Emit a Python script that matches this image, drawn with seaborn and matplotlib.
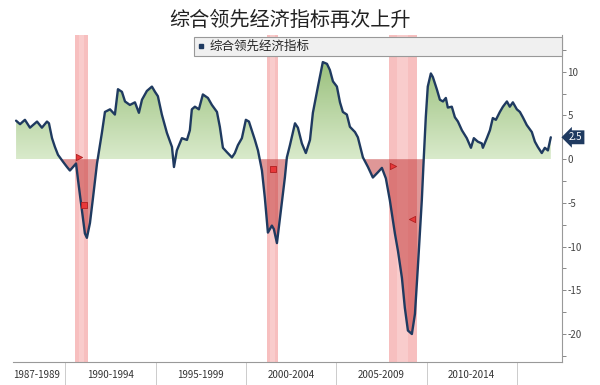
import numpy as np
import pandas as pd
import seaborn as sns
import matplotlib.pyplot as plt
from matplotlib.path import Path
from matplotlib.lines import Line2D
from matplotlib.colors import LinearSegmentedColormap

# Composite leading indicator, YoY %
years = [1987.28, 1987.50, 1987.77, 1988.05, 1988.44, 1988.71, 1988.99, 1989.10, 1989.27, 1989.43,
         1989.60, 1989.88, 1990.10, 1990.26, 1990.43, 1990.60, 1990.71, 1990.93, 1991.09, 1991.20,
         1991.37, 1991.54, 1991.76, 1992.03, 1992.20, 1992.48, 1992.75, 1992.92, 1993.14, 1993.31,
         1993.58, 1993.86, 1994.08, 1994.25, 1994.52, 1994.80, 1994.97, 1995.13, 1995.35, 1995.63,
         1995.91, 1996.02, 1996.18, 1996.46, 1996.74, 1996.90, 1997.01, 1997.18, 1997.40, 1997.62,
         1997.90, 1998.12, 1998.40, 1998.56, 1998.73, 1998.95, 1999.23, 1999.39, 1999.56, 1999.78,
         2000.00, 2000.17, 2000.28, 2000.50, 2000.67, 2000.89, 2001.05, 2001.22, 2001.44, 2001.55,
         2001.72, 2001.89, 2002.16, 2002.27, 2002.44, 2002.72, 2002.88, 2003.10, 2003.32, 2003.55,
         2003.71, 2003.99, 2004.26, 2004.49, 2004.65, 2004.82, 2005.04, 2005.21, 2005.37, 2005.59,
         2005.76, 2006.04, 2006.20, 2006.48, 2006.76, 2007.03, 2007.31, 2007.53, 2007.75, 2007.97,
         2008.25, 2008.42, 2008.64, 2008.80, 2008.97, 2009.19, 2009.36, 2009.52, 2009.74, 2009.85,
         2009.96, 2010.07, 2010.24, 2010.35, 2010.57, 2010.74, 2010.91, 2011.07, 2011.18, 2011.40,
         2011.57, 2011.74, 2011.96, 2012.23, 2012.46, 2012.62, 2012.84, 2013.06, 2013.12, 2013.34,
         2013.51, 2013.67, 2013.84, 2014.06, 2014.23, 2014.45, 2014.61, 2014.78, 2015.00, 2015.17,
         2015.33, 2015.55, 2015.83, 2016.00, 2016.16, 2016.38, 2016.55, 2016.72, 2016.88]
values = [4.4, 4.0, 4.5, 3.6, 4.3, 3.6, 4.3, 4.1, 2.4, 1.4,
          0.5, -0.3, -0.9, -1.3, -0.9, -0.5, -2.4, -5.9, -8.5, -9.0,
          -7.3, -4.4, -0.5, 3.0, 5.4, 5.7, 5.1, 8.0, 7.7, 6.6,
          6.2, 6.5, 5.3, 6.8, 7.8, 8.3, 7.7, 7.2, 5.1, 3.0,
          1.4, -0.9, 1.0, 2.4, 2.2, 3.3, 5.7, 6.0, 5.7, 7.4,
          7.0, 6.2, 5.4, 3.7, 1.3, 0.8, 0.2, 0.7, 1.6, 2.4,
          4.5, 4.3, 3.6, 2.2, 1.0, -1.3, -4.4, -8.4, -7.6, -8.0,
          -9.6, -6.7, -2.1, 0.2, 1.6, 4.1, 3.6, 1.8, 0.7, 2.2,
          5.3, 8.3, 11.1, 10.9, 10.2, 8.9, 8.3, 6.5, 5.4, 5.1,
          3.7, 3.1, 2.5, 0.2, -0.9, -2.1, -1.5, -1.0, -2.2, -4.7,
          -8.5, -10.5, -13.6, -17.0, -19.6, -20.0, -17.7, -12.4, -4.7, 0.2,
          4.8, 8.3, 9.8, 9.4, 8.0, 6.8, 6.6, 7.0, 5.9, 6.0,
          4.8, 4.3, 3.3, 2.4, 1.3, 2.4, 2.0, 1.8, 1.3, 2.4,
          3.3, 4.7, 4.5, 5.4, 6.0, 6.6, 6.0, 6.5, 5.7, 5.4,
          4.8, 3.9, 3.1, 2.0, 1.4, 0.7, 1.3, 1.0, 2.5]

recession_start = [1990.54, 2001.17, 2007.92]
recession_end = [1991.25, 2001.80, 2009.45]

flag_years = [1990.76, 1991.04, 2001.50, 2008.14, 2009.19]
flag_values = [0.2, -5.2, -1.1, -0.8, -6.9]

period_labels = ['1987-1989', '1990-1994', '1995-1999', '2000-2004', '2005-2009', '2010-2014']
period_centers = [1988.4, 1992.5, 1997.5, 2002.5, 2007.5, 2012.5]
period_edges = [1990, 1995, 2000, 2005, 2010, 2015]

series_name = '综合领先经济指标'
title = '综合领先经济指标再次上升'

sns.set_style('white')
plt.rcParams['font.family'] = ['Noto Sans CJK SC', 'DejaVu Sans']
plt.rcParams['axes.unicode_minus'] = False

df = pd.DataFrame({'year': years, 'value': values})
x0, x1 = 1987.11, 2017.5
y0, y1 = -23.2, 14.2
navy = '#1f3a60'

fig = plt.figure(figsize=(6, 3.85), dpi=100)
ax = fig.add_axes([13 / 600, 1 - 362 / 385, (562 - 13) / 600, (362 - 35) / 385])

# recession bands, a bit lighter in the middle
for s, e in zip(recession_start, recession_end):
    ax.axvspan(s, e, color='#f7bfbf', lw=0, zorder=1)
    w = e - s
    ax.axvspan(s + w * 0.3, e - w * 0.3, color='#f9cccc', lw=0, zorder=1)

# green gradient above zero
pos = ax.fill_between(df['year'], df['value'], 0, where=df['value'] >= 0,
                      interpolate=True, color='none', lw=0)
clip = Path.make_compound_path(*pos.get_paths())
cmap = LinearSegmentedColormap.from_list('grn', ['#d9eacb', '#98bf7a'])
grad = np.linspace(0, 1, 256).reshape(-1, 1)
im = ax.imshow(grad, cmap=cmap, extent=[x0, x1, 0, 11.5], origin='lower',
               aspect='auto', zorder=2)
im.set_clip_path(clip, transform=ax.transData)

# red below zero
ax.fill_between(df['year'], df['value'], 0, where=df['value'] <= 0,
                interpolate=True, color='#c03030', alpha=0.5, lw=0, zorder=3)

sns.lineplot(data=df, x='year', y='value', ax=ax, color=navy, lw=1.7,
             legend=False, zorder=5)

# event flags
flag_marks = ['>', 's', 's', '>', '<']
for fx, fy, m in zip(flag_years, flag_values, flag_marks):
    ax.scatter(fx, fy, marker=m, s=20, color='#e8383a', edgecolor='#b02020',
               lw=0.6, zorder=6)

ax.set_xlim(x0, x1)
ax.set_ylim(y0, y1)
ax.set_xlabel('')
ax.set_ylabel('')

for side in ['left', 'top']:
    ax.spines[side].set_visible(False)
for side in ['right', 'bottom']:
    ax.spines[side].set_color('#999999')
    ax.spines[side].set_linewidth(0.8)

# y axis on the right
ax.yaxis.tick_right()
ax.set_yticks([-20, -15, -10, -5, 0, 5, 10])
ax.set_yticks(np.arange(-22.5, 14, 2.5), minor=True)
ax.tick_params(axis='y', which='both', direction='out', length=3, width=0.7,
               color='#888888', labelsize=7, labelcolor='#444444', pad=1)

# x axis: period labels, yearly ticks, separators below
ax.set_xticks(period_centers, period_labels)
ax.set_xticks(np.arange(1988, 2018), minor=True)
ax.tick_params(axis='x', which='major', length=0, labelsize=7,
               labelcolor='#333333', pad=6)
ax.tick_params(axis='x', which='minor', direction='in', length=3, width=0.6,
               color='#aaaaaa')
sec = ax.secondary_xaxis('bottom')
sec.set_xticks(period_edges)
sec.tick_params(axis='x', length=20, width=0.7, color='#cccccc', labelbottom=False)
sec.spines['bottom'].set_visible(False)

# last value tag
ax.annotate(f'{values[-1]:.1f}', xy=(1, values[-1]), xycoords=('axes fraction', 'data'),
            xytext=(5, 0), textcoords='offset points', ha='left', va='center',
            fontsize=7, color='white', annotation_clip=False, zorder=10,
            bbox=dict(boxstyle='larrow,pad=0.2', fc=navy, ec='none'))

# legend bar across the top
handle = Line2D([], [], marker='s', color=navy, ls='none', markersize=3)
leg = ax.legend([handle], [series_name], loc='upper left',
                bbox_to_anchor=(0.33, 0.994, 0.67, 0), mode='expand',
                fontsize=9, handlelength=0.6, handletextpad=0.4, borderpad=0.25,
                fancybox=False, framealpha=1, facecolor='#f0f0f0',
                edgecolor='#999999', borderaxespad=0)
leg.get_frame().set_linewidth(0.8)
leg.set_zorder(8)

fig.text(0.483, 0.948, title, ha='center', va='center', fontsize=14.5, color='#222222')

fig.savefig('out.png', dpi=100)
